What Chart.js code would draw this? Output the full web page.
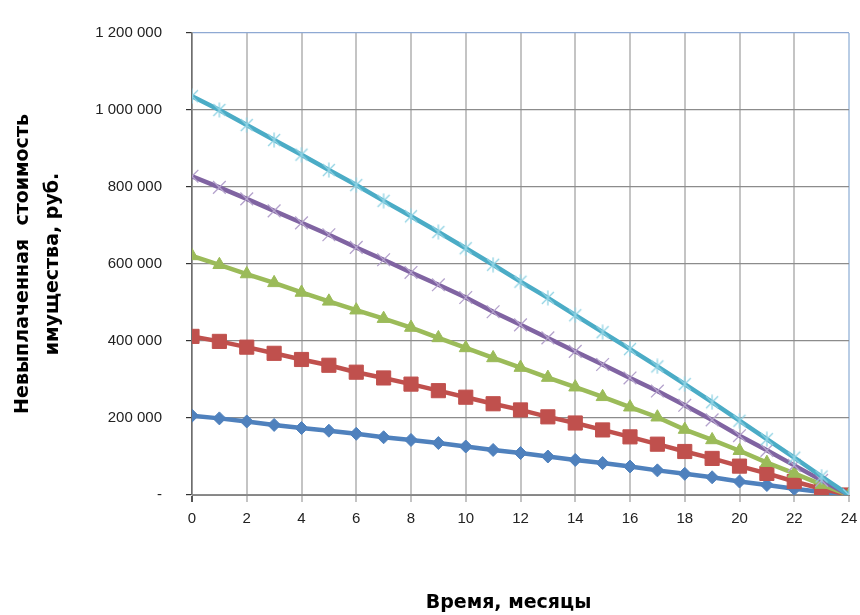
<!DOCTYPE html>
<html>
<head>
<meta charset="utf-8">
<script src="https://cdn.jsdelivr.net/npm/chart.js@4.4.1/dist/chart.umd.min.js"></script>
<style>
  html, body { margin: 0; padding: 0; background: #ffffff; }
  #wrap { width: 860px; height: 615px; }
</style>
</head>
<body>
<div id="wrap"><canvas id="chart" width="860" height="615"></canvas></div>
<script>
// Months of the lease term
const months = [0, 1, 2, 3, 4, 5, 6, 7, 8, 9, 10, 11, 12, 13, 14, 15, 16, 17, 18, 19, 20, 21, 22, 23, 24];

// Unpaid value of the property, rub.
const balance1 = [206000, 199000, 191000, 182000, 174000, 167000, 159000, 150000, 143000, 135000, 126000, 117000, 109000, 100000, 91000, 83000, 74000, 64000, 55000, 46000, 35000, 26000, 16000, 8000, 0];
const balance2 = [412000, 399000, 384000, 368000, 352000, 337000, 319000, 304000, 288000, 271000, 254000, 237000, 221000, 203000, 187000, 169000, 151000, 132000, 113000, 95000, 75000, 56000, 35000, 16000, 0];
const balance3 = [621000, 598000, 574000, 551000, 526000, 503000, 480000, 458000, 435000, 408000, 382000, 356000, 331000, 305000, 280000, 255000, 228000, 202000, 170000, 143000, 115000, 84000, 56000, 27000, 0];
const balance4 = [828000, 799000, 769000, 738000, 707000, 676000, 643000, 611000, 578000, 546000, 513000, 476000, 442000, 408000, 373000, 339000, 304000, 270000, 233000, 195000, 154000, 116000, 77000, 38000, 0];
const balance5 = [1036000, 1000000, 961000, 922000, 884000, 844000, 805000, 764000, 724000, 683000, 641000, 598000, 554000, 512000, 467000, 423000, 379000, 334000, 288000, 241000, 193000, 145000, 97000, 48000, 0];

// Axis tick values and their printed labels
const yTickValues = [0, 200000, 400000, 600000, 800000, 1000000, 1200000];
const yTickLabels = ['-', '200 000', '400 000', '600 000', '800 000', '1 000 000', '1 200 000'];
const xTickLabels = ['0', '2', '4', '6', '8', '10', '12', '14', '16', '18', '20', '22', '24'];

const yTitle = ['Невыплаченная  стоимость', 'имущества, руб.'];
const xTitle = 'Время, месяцы';

// Star marker: an X crossed by a vertical stroke
function starMarker(color) {
  const c = document.createElement('canvas');
  c.width = 16; c.height = 16;
  const g = c.getContext('2d');
  g.strokeStyle = color;
  g.lineWidth = 1.3;
  g.beginPath();
  g.moveTo(2, 2); g.lineTo(14, 14);
  g.moveTo(14, 2); g.lineTo(2, 14);
  g.moveTo(8, 0.5); g.lineTo(8, 15.5);
  g.stroke();
  return c;
}

// Horizontal axis caption, set slightly left of the plot centre, near the bottom edge
const xCaption = {
  id: 'xCaption',
  afterDraw(chart) {
    const { ctx, chartArea } = chart;
    ctx.save();
    ctx.font = "bold 19px 'DejaVu Sans', sans-serif";
    ctx.fillStyle = '#000000';
    ctx.textAlign = 'center';
    ctx.textBaseline = 'middle';
    ctx.fillText(xTitle, (chartArea.left + chartArea.right) / 2 - 12, chart.height - 12);
    ctx.restore();
  }
};

const toPoints = vals => months.map((m, i) => ({ x: m, y: vals[i] }));

Chart.defaults.font.family = "'Liberation Sans', Arial, sans-serif";
Chart.defaults.color = '#222222';

new Chart(document.getElementById('chart'), {
  type: 'line',
  data: {
    datasets: [
      {
        data: toPoints(balance1), order: 5,
        borderColor: '#4F81BD', borderWidth: 4.5,
        pointStyle: 'rectRot', pointRadius: 6.5,
        pointBackgroundColor: '#4F81BD', pointBorderColor: '#4F81BD', pointBorderWidth: 1
      },
      {
        data: toPoints(balance2), order: 4,
        borderColor: '#C0504D', borderWidth: 4.5,
        pointStyle: 'rect', pointRadius: 10,
        pointBackgroundColor: '#C0504D', pointBorderColor: '#C0504D', pointBorderWidth: 1
      },
      {
        data: toPoints(balance3), order: 3,
        borderColor: '#9BBB59', borderWidth: 4.5,
        pointStyle: 'triangle', pointRadius: 7.5,
        pointBackgroundColor: '#9BBB59', pointBorderColor: '#9BBB59', pointBorderWidth: 1
      },
      {
        data: toPoints(balance4), order: 2,
        borderColor: '#8064A2', borderWidth: 4.5,
        pointStyle: 'crossRot', pointRadius: 9,
        pointBackgroundColor: '#B4A2CC', pointBorderColor: '#B4A2CC', pointBorderWidth: 1.3
      },
      {
        data: toPoints(balance5), order: 1,
        borderColor: '#4BACC6', borderWidth: 4.5,
        pointStyle: starMarker('#8FD2E3'),
        pointBackgroundColor: '#8FD2E3', pointBorderColor: '#8FD2E3'
      }
    ]
  },
  options: {
    responsive: false,
    animation: false,
    devicePixelRatio: 1,
    layout: { padding: { top: 17, right: 9, left: 0, bottom: 0 } },
    plugins: { legend: { display: false }, tooltip: { enabled: false } },
    elements: { line: { tension: 0 } },
    scales: {
      x: {
        type: 'linear', min: 0, max: 24,
        afterFit: s => { s.height = 120; s.paddingLeft = 0; s.paddingRight = 0; },
        border: { color: '#868686', width: 1 },
        grid: {
          color: ctx => ctx.tick && ctx.tick.value === 24 ? '#B9CDE5' : '#C4C4C4',
          lineWidth: 2,
          tickLength: 7,
          tickColor: ctx => ctx.tick && ctx.tick.value === 0 ? '#555555' : '#C4C4C4'
        },
        ticks: {
          stepSize: 2, padding: 8, maxRotation: 0, autoSkip: false,
          font: { size: 15 },
          callback: (v, i) => xTickLabels[i]
        }
      },
      y: {
        type: 'linear', min: 0, max: 1200000,
        afterFit: s => { s.width = 192; },
        afterBuildTicks: s => { s.ticks = yTickValues.map(v => ({ value: v })); },
        border: { color: '#6E6E6E', width: 1.5 },
        grid: {
          color: ctx => ctx.tick && ctx.tick.value === 1200000 ? '#8EA9D3' : '#8C8C8C',
          lineWidth: 1.2,
          tickLength: 6,
          tickColor: '#333333'
        },
        ticks: {
          padding: 24,
          font: { size: 15 },
          callback: v => yTickLabels[yTickValues.indexOf(v)]
        },
        title: {
          display: true, text: yTitle,
          font: { family: "'DejaVu Sans', sans-serif", size: 19, weight: 'bold', lineHeight: '30px' },
          color: '#000000',
          padding: { top: 8, bottom: 0 }
        }
      }
    }
  },
  plugins: [xCaption]
});
</script>
</body>
</html>
